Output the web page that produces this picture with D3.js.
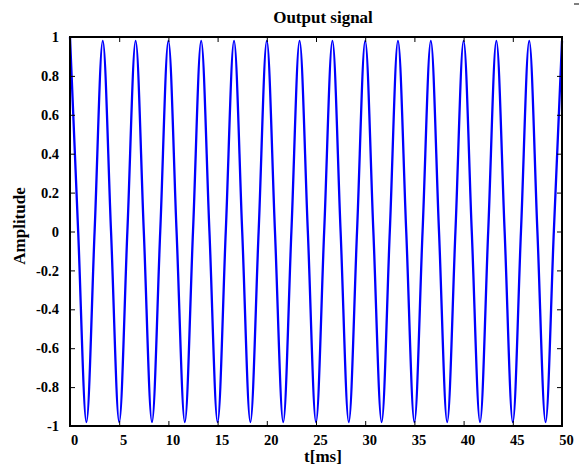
<!DOCTYPE html>
<html><head><meta charset="utf-8">
<script src="https://cdn.jsdelivr.net/npm/d3@7"></script>
<style>
body{margin:0;background:#fff;}
text{font-family:"Liberation Serif","DejaVu Serif",serif;font-weight:bold;}
</style></head>
<body><svg id="c" width="579" height="467"></svg>
<script>
// Extrema and zero crossings (t in ms)
const times = [0,0.83,1.67,2.5,3.33,4.17,5,5.83,6.67,7.5,8.33,9.17,10,10.83,11.67,12.5,13.33,14.17,15,15.83,16.67,17.5,18.33,19.17,20,20.83,21.67,22.5,23.33,24.17,25,25.83,26.67,27.5,28.33,29.17,30,30.83,31.67,32.5,33.33,34.17,35,35.83,36.67,37.5,38.33,39.17,40,40.83,41.67,42.5,43.33,44.17,45,45.83,46.67,47.5,48.33,49.17,50];
const amplitude = [1,0,-0.98,0,0.98,0,-0.98,0,0.98,0,-0.98,0,0.98,0,-0.98,0,0.98,0,-0.98,0,0.98,0,-0.98,0,0.98,0,-0.98,0,0.98,0,-0.98,0,0.98,0,-0.98,0,0.98,0,-0.98,0,0.98,0,-0.98,0,0.98,0,-0.98,0,0.98,0,-0.98,0,0.98,0,-0.98,0,0.98,0,-0.98,0,0.98];
const xTicks = [0,5,10,15,20,25,30,35,40,45,50];
const yTicks = [-1,-0.8,-0.6,-0.4,-0.2,0,0.2,0.4,0.6,0.8,1];

const svg = d3.select("#c");
const L=70, R=562, T=37, B=426;
const x = d3.scaleLinear().domain([0,50]).range([L,R]);
const y = d3.scaleLinear().domain([-1,1]).range([B,T]);
const data = times.map((t,i)=>({t, v:amplitude[i]}));

const line = d3.line().x(d=>x(d.t)).y(d=>y(d.v)).curve(d3.curveMonotoneX);
svg.append("path").datum(data).attr("d",line)
  .attr("fill","none").attr("stroke","#0000ff").attr("stroke-width",2.3);

function styleAxis(g){
  g.selectAll(".domain").remove();
  g.selectAll(".tick line").attr("stroke","#000").attr("stroke-width",1);
  g.selectAll("text").attr("font-size",14.5).attr("fill","#000");
}
const fmt = d=> d===0?"0":String(d);
svg.append("g").attr("transform",`translate(0,${B})`)
  .call(d3.axisBottom(x).tickValues(xTicks).tickSize(-5).tickPadding(9).tickFormat(fmt)).call(styleAxis)
  .selectAll("text").attr("dx",4);
svg.append("g").attr("transform",`translate(0,${T})`)
  .call(d3.axisTop(x).tickValues(xTicks).tickSize(-5).tickFormat("")).call(styleAxis);
svg.append("g").attr("transform",`translate(${L},0)`)
  .call(d3.axisLeft(y).tickValues(yTicks).tickSize(-5).tickPadding(11).tickFormat(fmt)).call(styleAxis);
svg.append("g").attr("transform",`translate(${R},0)`)
  .call(d3.axisRight(y).tickValues(yTicks).tickSize(-5).tickFormat("")).call(styleAxis);

svg.append("rect").attr("x",L).attr("y",T).attr("width",R-L).attr("height",B-T)
  .attr("fill","none").attr("stroke","#000").attr("stroke-width",2);

svg.append("text").attr("x",323).attr("y",23).attr("text-anchor","middle").attr("font-size",17).text("Output signal");
svg.append("text").attr("x",323).attr("y",462).attr("text-anchor","middle").attr("font-size",17).text("t[ms]");
svg.append("text").attr("transform","translate(25,226) rotate(-90)").attr("text-anchor","middle").attr("font-size",17).text("Amplitude");
svg.append("line").attr("x1",574).attr("x2",579).attr("y1",4).attr("y2",4).attr("stroke","#000").attr("stroke-width",1);
</script></body></html>
